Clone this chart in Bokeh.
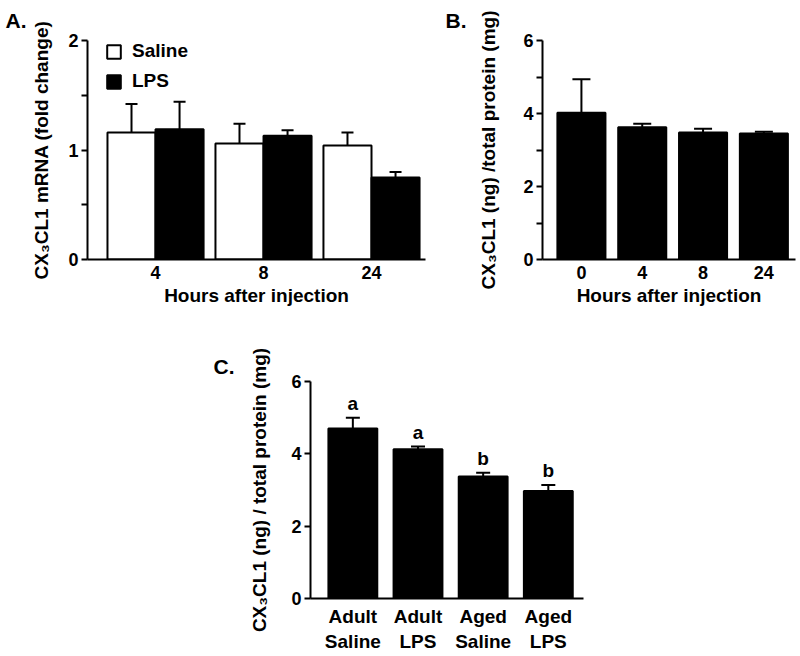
import numpy as np
from bokeh.plotting import figure
from bokeh.models import Range1d, FixedTicker, Whisker, ColumnDataSource, Title, Spacer, TeeHead
from bokeh.layouts import column, row
from bokeh.embed import file_html
from bokeh.resources import INLINE
from bokeh.core.properties import value

# ---------------- data ----------------
# Panel A: CX3CL1 mRNA (fold change)
a_hours = ["4", "8", "24"]
a_saline = [1.16, 1.06, 1.04]
a_saline_err = [0.26, 0.18, 0.12]
a_lps = [1.19, 1.13, 0.75]
a_lps_err = [0.25, 0.05, 0.05]

# Panel B: CX3CL1 protein
b_hours = ["0", "4", "8", "24"]
b_vals = [4.02, 3.62, 3.48, 3.45]
b_err = [0.92, 0.10, 0.10, 0.05]

# Panel C: adult vs aged
c_groups = ["Adult\nSaline", "Adult\nLPS", "Aged\nSaline", "Aged\nLPS"]
c_vals = [4.70, 4.13, 3.37, 2.97]
c_err = [0.30, 0.07, 0.11, 0.17]
c_letters = ["a", "a", "b", "b"]

FONT = "Liberation Sans"


def make_fig(width, height, left, right, top, bottom, x_range, y_range):
    p = figure(width=width, height=height,
               min_border_left=left, min_border_right=right,
               min_border_top=top, min_border_bottom=bottom,
               x_range=x_range, y_range=y_range,
               output_backend="svg", toolbar_location=None, tools="")
    p.outline_line_color = None
    p.grid.visible = False
    p.background_fill_color = "white"
    p.border_fill_color = "white"
    for ax in p.axis:
        ax.axis_line_width = 2
        ax.axis_line_color = "black"
        ax.major_tick_line_width = 2
        ax.minor_tick_line_width = 2
        ax.major_tick_line_color = "black"
        ax.minor_tick_line_color = "black"
        ax.major_label_text_font = FONT
        ax.major_label_text_font_style = "bold"
        ax.major_label_text_font_size = "18px"
        ax.major_label_text_color = "black"
        ax.axis_label_text_font = FONT
        ax.axis_label_text_font_style = "bold"
        ax.axis_label_text_font_size = "19px"
        ax.axis_label_text_color = "black"
    p.xaxis.major_tick_out = 0
    p.xaxis.major_tick_in = 0
    p.xaxis.minor_tick_out = 0
    p.xaxis.minor_tick_in = 0
    p.yaxis.major_tick_in = 0
    p.yaxis.major_tick_out = 6
    p.yaxis.minor_tick_in = 0
    p.yaxis.minor_tick_out = 6
    p.yaxis.major_label_standoff = 3
    return p


def add_whiskers(p, xs, vals, errs, head):
    vals = np.asarray(vals, dtype=float)
    src = ColumnDataSource(dict(x=xs, lower=vals, upper=vals + np.asarray(errs, dtype=float)))
    w = Whisker(base="x", lower="lower", upper="upper", source=src, dimension="height",
                line_width=2, line_color="black", lower_head=None,
                upper_head=TeeHead(size=head, line_width=2, line_color="black"))
    p.add_layout(w)
    return src


def panel_title(p, text, offset, valign, standoff):
    p.add_layout(Title(text=text, align="left", offset=offset, vertical_align=valign,
                       standoff=standoff, text_font=FONT, text_font_style="bold",
                       text_font_size="21px", text_color="black"), "above")


# ---------------- Panel A ----------------
ia = np.arange(len(a_hours))
pA = make_fig(438, 308, 87, 13, 40, 48, Range1d(-0.63, 2.5), Range1d(0, 2))
bw = 0.445
pA.vbar(x=ia - bw / 2, top=a_saline, width=bw, fill_color="white", line_color="black",
        line_width=2, legend_label="Saline")
pA.vbar(x=ia + bw / 2, top=a_lps, width=bw, fill_color="black", line_color="black",
        line_width=2, legend_label="LPS")
add_whiskers(pA, ia - bw / 2, a_saline, a_saline_err, 12)
add_whiskers(pA, ia + bw / 2, a_lps, a_lps_err, 12)
pA.yaxis.ticker = FixedTicker(ticks=[0, 1, 2], minor_ticks=[0.5, 1.5])
pA.xaxis.ticker = FixedTicker(ticks=list(ia))
pA.xaxis.major_label_overrides = {int(i): h for i, h in zip(ia, a_hours)}
pA.xaxis.major_label_standoff = 6
pA.xaxis.axis_label = "Hours after injection"
pA.xaxis.axis_label_standoff = 3
pA.yaxis.axis_label = "CX\u2083CL1 mRNA (fold change)"
pA.yaxis.axis_label_standoff = 13
leg = pA.legend[0]
leg.location = (18, 167)
leg.margin = 0
leg.padding = 0
leg.spacing = 8
leg.glyph_width = 17
leg.glyph_height = 17
leg.label_height = 17
leg.label_standoff = 10
leg.label_text_font = FONT
leg.label_text_font_style = "bold"
leg.label_text_font_size = "19px"
leg.label_text_color = "black"
leg.border_line_color = None
leg.background_fill_alpha = 0
panel_title(pA, "A.", -82, "top", 13)

# ---------------- Panel B ----------------
ib = np.arange(len(b_hours))
pB = make_fig(360, 308, 104, 3, 40, 48, Range1d(-0.64, 3.52), Range1d(0, 6))
pB.vbar(x=ib, top=b_vals, width=0.79, fill_color="black", line_color="black", line_width=2)
add_whiskers(pB, ib, b_vals, b_err, 18)
pB.yaxis.ticker = FixedTicker(ticks=[0, 2, 4, 6], minor_ticks=[1, 3, 5])
pB.xaxis.ticker = FixedTicker(ticks=list(ib))
pB.xaxis.major_label_overrides = {int(i): h for i, h in zip(ib, b_hours)}
pB.xaxis.major_label_standoff = 6
pB.xaxis.axis_label = "Hours after injection"
pB.xaxis.axis_label_standoff = 3
pB.yaxis.axis_label = "CX\u2083CL1 (ng) /total protein (mg)"
pB.yaxis.axis_label_standoff = 21
panel_title(pB, "B.", -97, "top", 13)

# ---------------- Panel C ----------------
ic = np.arange(len(c_groups))
pC = make_fig(420, 346, 122, 25, 73, 51, Range1d(-0.65, 3.54), Range1d(0, 6))
pC.vbar(x=ic, top=c_vals, width=0.75, fill_color="black", line_color="black", line_width=2)
csrc = add_whiskers(pC, ic, c_vals, c_err, 14)
csrc.data["letter"] = c_letters
pC.text(x="x", y="upper", text="letter", source=csrc, text_font=value(FONT),
        text_font_style="bold", text_font_size="19px", text_color="black",
        text_align="center", text_baseline="bottom", y_offset=-4)
pC.yaxis.ticker = FixedTicker(ticks=[0, 2, 4, 6])
pC.yaxis.minor_tick_out = 0
pC.xaxis.ticker = FixedTicker(ticks=list(ic))
pC.xaxis.major_label_overrides = {int(i): g for i, g in zip(ic, c_groups)}
pC.xaxis.major_label_standoff = 7
pC.xaxis.major_label_text_font_size = "19px"
pC.yaxis.axis_label = "CX\u2083CL1 (ng) / total protein (mg)"
pC.yaxis.axis_label_standoff = 18
panel_title(pC, "C.", -97, "bottom", 7)

layout = column(row(pA, pB), row(Spacer(width=188, height=346), pC))

open("out.html", "w").write(file_html(layout, INLINE))
